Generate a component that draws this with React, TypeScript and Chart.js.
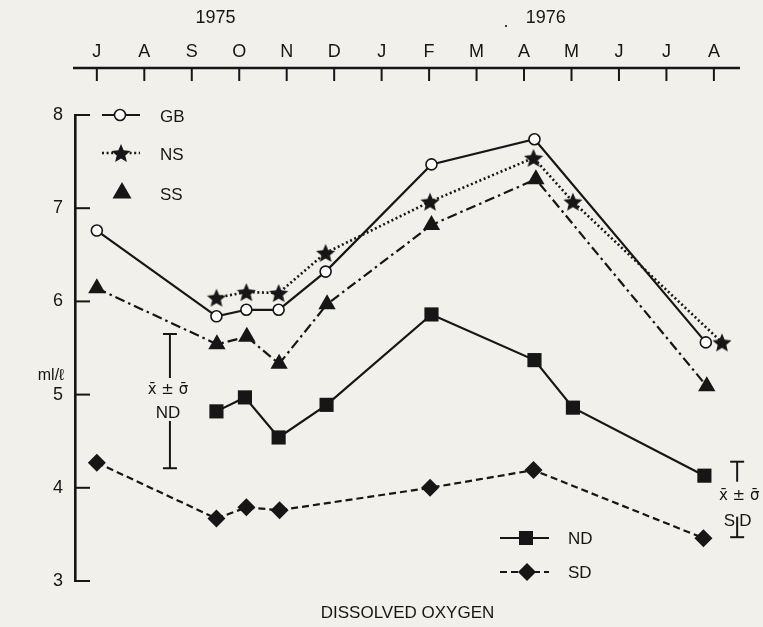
import { useEffect, useRef } from "react";
import { Chart, registerables } from "chart.js";

Chart.register(...registerables);

// ---- data (x = months since July 1975, y = ml/l) ----
const monthLetters = ["J", "A", "S", "O", "N", "D", "J", "F", "M", "A", "M", "J", "J", "A"];
const yearLabels = ["1975", "1976"];
const yearLabelMonths = [2.5, 9.46];
const yTickValues = [3, 4, 5, 6, 7, 8];

const gbMonths = [0, 2.52, 3.15, 3.83, 4.82, 7.05, 9.22, 12.83];
const gbValues = [6.76, 5.84, 5.91, 5.91, 6.32, 7.47, 7.74, 5.56];

const nsMonths = [2.52, 3.15, 3.83, 4.82, 7.02, 9.2, 10.03, 13.17];
const nsValues = [6.04, 6.1, 6.09, 6.52, 7.07, 7.54, 7.07, 5.56];

const ssMonths = [0, 2.53, 3.16, 3.84, 4.85, 7.05, 9.25, 12.85];
const ssValues = [6.14, 5.54, 5.62, 5.33, 5.97, 6.82, 7.31, 5.09];

const ndMonths = [2.52, 3.12, 3.83, 4.84, 7.05, 9.22, 10.03, 12.8];
const ndValues = [4.82, 4.97, 4.54, 4.89, 5.86, 5.37, 4.86, 4.13];

const sdMonths = [0, 2.52, 3.15, 3.85, 7.02, 9.2, 12.78];
const sdValues = [4.27, 3.67, 3.79, 3.76, 4.0, 4.19, 3.46];

// mean ± sigma bars
const errorBarLabels = ["ND", "SD"];
const errorBarMonths = [1.54, 13.49];
const errorBarHigh = [5.65, 4.28];
const errorBarLow = [4.21, 3.47];

const FONT = '"Liberation Sans", Arial, "DejaVu Sans", sans-serif';
const SYM_FONT = '"DejaVu Sans", sans-serif';
const INK = "#161616";
const PAPER = "#f2f0eb";

function makeStar(d: number) {
  const c = document.createElement("canvas");
  c.width = d;
  c.height = d;
  const g = c.getContext("2d")!;
  g.fillStyle = INK;
  g.beginPath();
  const R = d / 2;
  const r = R * 0.45;
  const cx = d / 2;
  const cy = d / 2 + R * 0.1;
  for (let i = 0; i < 10; i++) {
    const a = -Math.PI / 2 + (i * Math.PI) / 5;
    const rr = i % 2 ? r : R;
    g.lineTo(cx + rr * Math.cos(a), cy + rr * Math.sin(a));
  }
  g.closePath();
  g.fill();
  return c;
}

export default function App() {
  const ref = useRef<HTMLCanvasElement>(null);

  useEffect(() => {
    document.body.style.margin = "0";
    document.body.style.background = PAPER;
    const star = makeStar(20);
    const pts = (xs: number[], ys: number[]) => xs.map((x, i) => ({ x, y: ys[i] }));

    const base = {
      borderColor: INK,
      backgroundColor: INK,
      borderWidth: 2.2,
      pointBorderColor: INK,
      pointBackgroundColor: INK,
      tension: 0,
      fill: false,
      clip: false as any,
    };

    const line = (ctx: CanvasRenderingContext2D, x1: number, y1: number, x2: number, y2: number) => {
      ctx.beginPath();
      ctx.moveTo(x1, y1);
      ctx.lineTo(x2, y2);
      ctx.stroke();
    };

    const decor = {
      id: "decor",
      beforeDraw(chart: any) {
        const ctx = chart.ctx as CanvasRenderingContext2D;
        ctx.save();
        ctx.fillStyle = PAPER;
        ctx.fillRect(0, 0, chart.width, chart.height);
        ctx.restore();
      },
      afterDraw(chart: any) {
        const ctx = chart.ctx as CanvasRenderingContext2D;
        const { chartArea } = chart;
        const xs = chart.scales.x;
        const ys = chart.scales.y;
        const L = chartArea.left;
        const T = chartArea.top;
        ctx.save();
        ctx.strokeStyle = INK;
        ctx.fillStyle = INK;
        ctx.lineCap = "butt";

        // top month axis
        const axisY = T - 47;
        ctx.lineWidth = 2.6;
        line(ctx, L - 2, axisY, chartArea.right, axisY);
        ctx.lineWidth = 2;
        ctx.font = `18px ${FONT}`;
        ctx.textAlign = "center";
        ctx.textBaseline = "middle";
        monthLetters.forEach((m, i) => {
          const px = xs.getPixelForValue(i);
          line(ctx, px, axisY, px, axisY + 13);
          ctx.fillText(m, px, axisY - 16);
        });
        ctx.font = `18px ${FONT}`;
        yearLabels.forEach((t, i) => {
          ctx.fillText(t, xs.getPixelForValue(yearLabelMonths[i]), axisY - 50);
        });
        ctx.fillText(".", xs.getPixelForValue(8.62), axisY - 46);

        // inward y ticks
        ctx.lineWidth = 2;
        yTickValues.forEach((v) => {
          const py = ys.getPixelForValue(v);
          line(ctx, L, py, L + 15, py);
        });

        // y unit
        ctx.font = `16px ${FONT}`;
        ctx.textAlign = "center";
        ctx.fillText("ml/\u2113", L - 24, ys.getPixelForValue(5.2));

        // title
        ctx.font = `17px ${FONT}`;
        ctx.fillText("DISSOLVED OXYGEN", (chartArea.left + chartArea.right) / 2, chartArea.bottom + 32);

        // legend top-left
        const lx = L + 27;
        const tx = L + 85;
        ctx.font = `17px ${FONT}`;
        ctx.textAlign = "left";
        // GB
        let ly = T;
        ctx.lineWidth = 2.2;
        ctx.setLineDash([]);
        line(ctx, lx, ly, lx + 38, ly);
        ctx.beginPath();
        ctx.arc(lx + 18, ly, 5.5, 0, Math.PI * 2);
        ctx.fillStyle = "#fff";
        ctx.fill();
        ctx.lineWidth = 1.6;
        ctx.stroke();
        ctx.fillStyle = INK;
        ctx.fillText("GB", tx, ly + 2);
        // NS
        ly = T + 38;
        ctx.lineWidth = 2.6;
        ctx.setLineDash([2, 2.6]);
        line(ctx, lx, ly, lx + 38, ly);
        ctx.setLineDash([]);
        ctx.drawImage(star, lx + 19 - 10, ly - 10);
        ctx.fillText("NS", tx, ly + 2);
        // SS
        ly = T + 78;
        {
          const cx = lx + 20;
          const r = 11;
          ctx.beginPath();
          ctx.moveTo(cx, ly - r);
          ctx.lineTo(cx + r * 0.866, ly + r / 2);
          ctx.lineTo(cx - r * 0.866, ly + r / 2);
          ctx.closePath();
          ctx.fill();
        }
        ctx.fillText("SS", tx, ly + 2);

        // legend bottom-right
        const bx = 500;
        const btx = 568;
        ly = 538;
        ctx.lineWidth = 2.2;
        line(ctx, bx, ly, bx + 49, ly);
        ctx.fillRect(bx + 26 - 7, ly - 7, 14, 14);
        ctx.fillText("ND", btx, ly + 1);
        ly = 572;
        ctx.setLineDash([7, 4]);
        line(ctx, bx, ly, bx + 49, ly);
        ctx.setLineDash([]);
        ctx.beginPath();
        ctx.moveTo(bx + 27, ly - 9);
        ctx.lineTo(bx + 36, ly);
        ctx.lineTo(bx + 27, ly + 9);
        ctx.lineTo(bx + 18, ly);
        ctx.closePath();
        ctx.fill();
        ctx.fillText("SD", btx, ly + 1);

        // mean ± sigma bars
        ctx.lineWidth = 2;
        ctx.textAlign = "center";
        {
          const ex = xs.getPixelForValue(errorBarMonths[0]);
          const yt = ys.getPixelForValue(errorBarHigh[0]);
          const yb = ys.getPixelForValue(errorBarLow[0]);
          line(ctx, ex - 7, yt, ex + 7, yt);
          line(ctx, ex, yt, ex, yt + 44);
          ctx.font = `15px ${SYM_FONT}`;
          ctx.fillText("x\u0304 \u00b1 \u03c3\u0304", ex - 2, yt + 56);
          ctx.font = `17px ${FONT}`;
          ctx.fillText(errorBarLabels[0], ex - 2, yt + 79);
          line(ctx, ex, yt + 87, ex, yb);
          line(ctx, ex - 7, yb, ex + 7, yb);
        }
        {
          const ex = xs.getPixelForValue(errorBarMonths[1]);
          const yt = ys.getPixelForValue(errorBarHigh[1]);
          const yb = ys.getPixelForValue(errorBarLow[1]);
          line(ctx, ex - 7, yt, ex + 7, yt);
          line(ctx, ex, yt, ex, yt + 20);
          ctx.font = `15px ${SYM_FONT}`;
          ctx.fillText("x\u0304 \u00b1 \u03c3\u0304", ex + 2, yt + 34);
          ctx.font = `17px ${FONT}`;
          ctx.textAlign = "right";
          ctx.fillText(errorBarLabels[1].charAt(0), ex - 2, yt + 60);
          ctx.textAlign = "left";
          ctx.fillText(errorBarLabels[1].charAt(1), ex + 2, yt + 60);
          line(ctx, ex, yt + 55, ex, yb);
          line(ctx, ex - 7, yb, ex + 7, yb);
        }
        ctx.restore();
      },
    };

    const chart = new Chart(ref.current!, {
      type: "line",
      data: {
        datasets: [
          {
            ...base,
            label: "GB",
            data: pts(gbMonths, gbValues),
            pointStyle: "circle",
            pointRadius: 5.5,
            pointBackgroundColor: "#ffffff",
            pointBorderWidth: 1.6,
          },
          {
            ...base,
            label: "NS",
            data: pts(nsMonths, nsValues),
            borderWidth: 2.6,
            borderDash: [2, 2.6],
            pointStyle: star as any,
            pointRadius: 9,
          },
          {
            ...base,
            label: "SS",
            data: pts(ssMonths, ssValues),
            borderDash: [10, 4, 2.5, 4],
            pointStyle: "triangle",
            pointRadius: 10,
            pointBorderWidth: 0,
          },
          {
            ...base,
            label: "ND",
            data: pts(ndMonths, ndValues),
            pointStyle: "rect",
            pointRadius: 10,
            pointBorderWidth: 0,
          },
          {
            ...base,
            label: "SD",
            data: pts(sdMonths, sdValues),
            borderDash: [7, 4],
            pointStyle: "rectRot",
            pointRadius: 9,
            pointBorderWidth: 0,
          },
        ],
      } as any,
      options: {
        animation: false,
        responsive: false,
        devicePixelRatio: 1,
        layout: { padding: { left: 0, right: 23, top: 115, bottom: 46 } },
        plugins: { legend: { display: false }, tooltip: { enabled: false } },
        events: [],
        scales: {
          x: { type: "linear", min: -0.46, max: 13.55, display: false },
          y: {
            type: "linear",
            min: 3,
            max: 8,
            afterFit: (s: any) => {
              s.width = 75;
            },
            ticks: {
              stepSize: 1,
              color: INK,
              font: { family: FONT, size: 18 },
              padding: 12,
            },
            grid: { display: false, drawTicks: false },
            border: { display: true, color: INK, width: 2.6 },
          },
        },
      } as any,
      plugins: [decor],
    });
    return () => chart.destroy();
  }, []);

  return <canvas ref={ref} width={763} height={627} style={{ display: "block" }} />;
}
